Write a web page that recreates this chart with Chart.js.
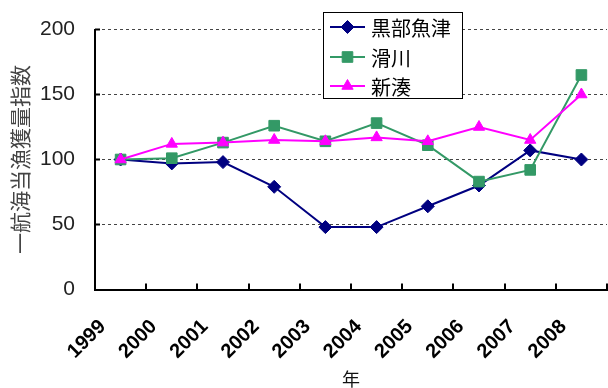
<!DOCTYPE html>
<html>
<head>
<meta charset="utf-8">
<script src="https://cdn.jsdelivr.net/npm/chart.js@4/dist/chart.umd.min.js"></script>
<style>
  html, body { margin: 0; padding: 0; background: #ffffff; }
  #wrap { width: 608px; height: 388px; }
</style>
</head>
<body>
<div id="wrap"><canvas id="c" width="608" height="388"></canvas></div>
<script>
// 年ごとの一航海当漁獲量指数（1999年 = 100）
const years = ['1999', '2000', '2001', '2002', '2003', '2004', '2005', '2006', '2007', '2008'];
const kurobeUozu = [100, 97, 98, 79, 48, 48, 64, 80, 107, 100];
const namerikawa = [100, 101, 113, 126, 114, 128, 111, 83, 92, 165];
const shinminato = [100, 112, 113, 115, 114, 117, 114, 125, 115, 150];
const yTicks = [0, 50, 100, 150, 200];

const seriesNames = ['黒部魚津', '滑川', '新湊'];
const seriesColors = ['#000080', '#339966', '#ff00ff'];
const seriesMarkers = ['rectRot', 'rect', 'triangle'];
const markerRadius = [6.5, 7.5, 6.5];

const JP = '"Noto Sans CJK JP", "Noto Sans", sans-serif';
const LAT = '"Liberation Sans", Arial, sans-serif';

function drawMarker(ctx, style, r, x, y, color) {
  if (Chart.helpers && Chart.helpers.drawPoint) {
    ctx.save();
    ctx.fillStyle = color;
    ctx.strokeStyle = color;
    ctx.lineWidth = 1;
    Chart.helpers.drawPoint(ctx, { pointStyle: style, radius: r, borderWidth: 1, rotation: 0 }, x, y);
    ctx.restore();
    return;
  }
  ctx.save();
  ctx.fillStyle = color;
  ctx.beginPath();
  if (style === 'rectRot') {
    ctx.moveTo(x, y - r); ctx.lineTo(x + r, y); ctx.lineTo(x, y + r); ctx.lineTo(x - r, y);
  } else if (style === 'rect') {
    const s = r * Math.SQRT1_2;
    ctx.rect(x - s, y - s, 2 * s, 2 * s);
  } else {
    ctx.moveTo(x, y - r);
    ctx.lineTo(x + r * Math.sin(2 * Math.PI / 3), y + r * 0.5);
    ctx.lineTo(x - r * Math.sin(2 * Math.PI / 3), y + r * 0.5);
  }
  ctx.closePath();
  ctx.fill();
  ctx.restore();
}

// Short tick marks pointing into the plot, plus the boxed legend in the upper area
const framePlugin = {
  id: 'frame',
  afterDatasetsDraw(chart) {
    const ctx = chart.ctx;
    const xs = chart.scales.x, ys = chart.scales.y;
    const area = chart.chartArea;
    ctx.save();
    ctx.strokeStyle = '#000';
    ctx.lineWidth = 2;
    ctx.beginPath();
    for (let i = 1; i <= years.length; i++) {
      const px = Math.round(xs.getPixelForValue(i - 0.5));
      ctx.moveTo(px, area.bottom);
      ctx.lineTo(px, area.bottom - 6);
    }
    yTicks.forEach(v => {
      if (v === 0) return;
      const py = ys.getPixelForValue(v);
      ctx.moveTo(area.left, py);
      ctx.lineTo(area.left + 5, py);
    });
    ctx.stroke();
    ctx.restore();
  },
  afterDraw(chart) {
    const ctx = chart.ctx;
    const box = { x: 323, y: 12, w: 139, h: 86 };
    ctx.save();
    ctx.fillStyle = '#ffffff';
    ctx.fillRect(box.x, box.y, box.w, box.h);
    ctx.strokeStyle = '#000';
    ctx.lineWidth = 1;
    ctx.strokeRect(box.x + 0.5, box.y + 0.5, box.w, box.h);
    const rows = [27, 57, 86];
    chart.data.datasets.forEach((ds, i) => {
      const ry = rows[i];
      ctx.strokeStyle = ds.borderColor;
      ctx.lineWidth = 2;
      ctx.beginPath();
      ctx.moveTo(330, ry);
      ctx.lineTo(365, ry);
      ctx.stroke();
      drawMarker(ctx, ds.pointStyle, ds.pointRadius, 347.5, ry, ds.borderColor);
      ctx.fillStyle = '#000';
      ctx.font = '20px ' + JP;
      ctx.textBaseline = 'middle';
      ctx.textAlign = 'left';
      ctx.fillText(ds.label, 371, ry + 1);
    });
    ctx.restore();
  }
};

const seriesData = [kurobeUozu, namerikawa, shinminato];

new Chart(document.getElementById('c'), {
  type: 'line',
  data: {
    labels: years,
    datasets: seriesData.map((vals, i) => ({
      label: seriesNames[i],
      data: vals,
      borderColor: seriesColors[i],
      backgroundColor: seriesColors[i],
      borderWidth: 2,
      pointStyle: seriesMarkers[i],
      pointRadius: markerRadius[i],
      pointBorderWidth: 1,
      tension: 0,
      clip: false,
      order: 2 - i
    }))
  },
  options: {
    responsive: false,
    animation: false,
    layout: { autoPadding: false, padding: { top: 29.5, right: 1, left: 0, bottom: 0 } },
    plugins: { legend: { display: false }, tooltip: { enabled: false } },
    scales: {
      x: {
        type: 'category',
        offset: true,
        afterFit(scale) {
          scale.height = 98.5;
          scale.paddingLeft = 0;
          scale.paddingRight = 0;
        },
        grid: { display: true, drawOnChartArea: false, drawTicks: false, offset: true },
        border: { display: true, color: '#000', width: 2 },
        ticks: {
          autoSkip: false,
          minRotation: 45,
          maxRotation: 45,
          padding: 27,
          labelOffset: -18,
          color: '#000',
          font: { family: LAT, size: 20, weight: 'bold', lineHeight: 1 }
        },
        title: {
          display: true,
          text: '年',
          color: '#111',
          padding: { top: 0, bottom: 0 },
          font: { family: JP, size: 18, lineHeight: 1 }
        }
      },
      y: {
        min: 0,
        max: 200,
        afterFit(scale) {
          scale.width = 95;
          scale.paddingTop = 0;
          scale.paddingBottom = 0;
        },
        afterBuildTicks(scale) { scale.ticks = yTicks.map(v => ({ value: v })); },
        grid: { color: '#444', lineWidth: 1, drawTicks: false },
        border: { display: true, color: '#000', width: 2, dash: [3, 3] },
        ticks: {
          padding: 20,
          color: '#222',
          font: { family: LAT, size: 21 }
        },
        title: {
          display: true,
          text: '一航海当漁獲量指数',
          color: '#444',
          padding: { top: 10, bottom: 0 },
          font: { family: JP, size: 21, lineHeight: 1 }
        }
      }
    }
  },
  plugins: [framePlugin]
});
</script>
</body>
</html>
